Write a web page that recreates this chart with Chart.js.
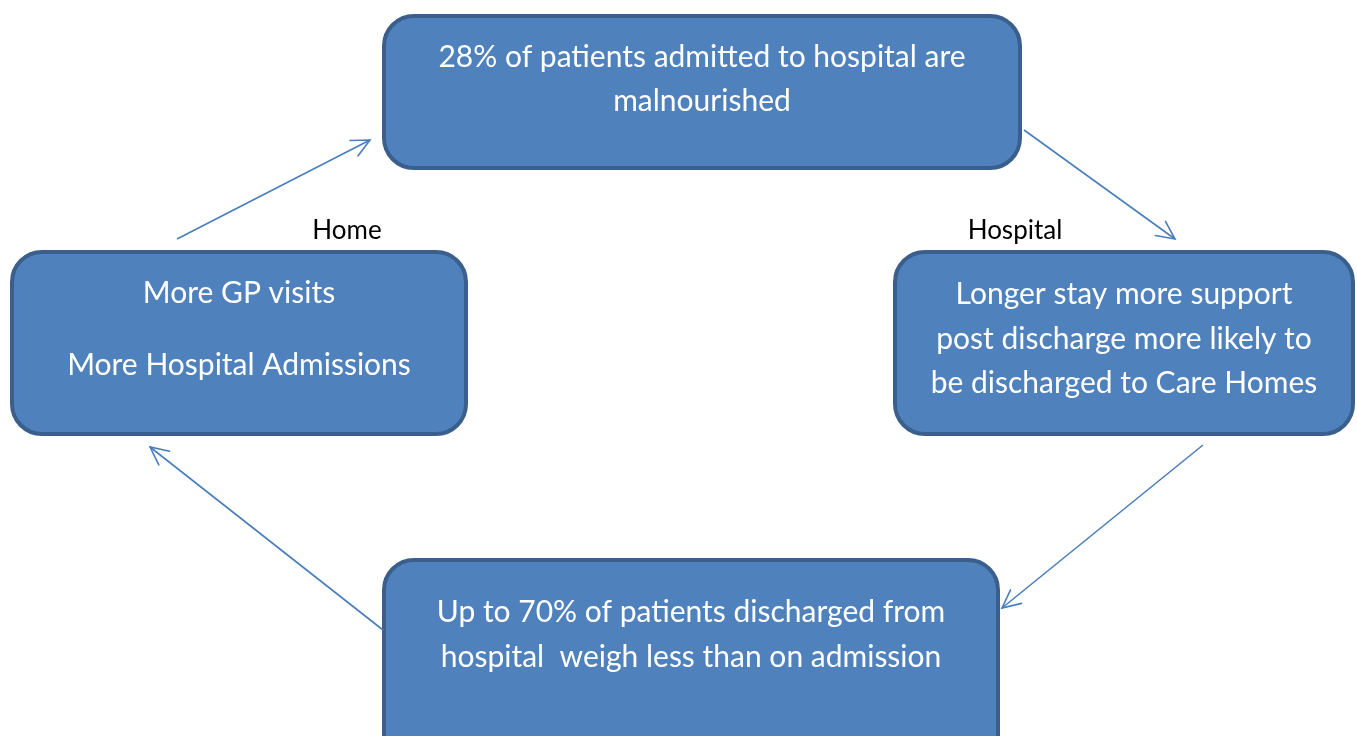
<!DOCTYPE html>
<html>
<head>
<meta charset="utf-8">
<script src="https://cdn.jsdelivr.net/npm/chart.js@4/dist/chart.umd.min.js"></script>
<style>
  html, body { margin: 0; padding: 0; background: #ffffff; }
  #wrap { width: 1357px; height: 736px; }
</style>
</head>
<body>
<div id="wrap"><canvas id="c" width="1357" height="736"></canvas></div>
<script>
// ---- Diagram content ----
const nodeNames = ["admitted", "stay", "discharged", "home"];
const nodeLines = [
  ["28% of patients admitted to hospital are", "malnourished"],
  ["Longer stay more support", "post discharge more likely to", "be discharged to Care Homes"],
  ["Up to 70% of patients discharged from", "hospital  weigh less than on admission"],
  ["More GP visits", "", "More Hospital Admissions"]
];
const sideLabels = ["Home", "Hospital"];

// node rectangles in diagram units: [x0, y0, x1, y1]
const nodeRects = [
  [384, 16, 1020, 168],
  [895, 252, 1353, 434],
  [384, 560, 998, 770],
  [12, 252, 466, 434]
];
// text line positions (diagram units)
const nodeTextX = [702, 1124, 691, 239];
const nodeTextY = [
  [57, 101],
  [294, 339, 383],
  [612, 657],
  [293, 329, 365]
];
const labelPos = [[347, 231], [1015, 231]];

// connector arrows from -> to (diagram units)
const arrowFrom = [[177, 239], [1024, 130], [1203, 445], [383, 630]];
const arrowTo   = [[370, 140], [1175, 239], [1002, 608], [150, 447]];

const boxFill = "#4F81BD";
const boxStroke = "#3A5F8C";
const arrowColor = "#4A7EBB";

const datasets = arrowFrom.map((f, i) => ({
  label: "arrow" + i,
  data: [{x: f[0], y: f[1]}, {x: arrowTo[i][0], y: arrowTo[i][1]}],
  showLine: true,
  borderColor: arrowColor,
  borderWidth: 1.6,
  pointRadius: 0,
  fill: false
}));

function roundRect(ctx, x0, y0, x1, y1, r) {
  ctx.beginPath();
  ctx.moveTo(x0 + r, y0);
  ctx.lineTo(x1 - r, y0);
  ctx.arcTo(x1, y0, x1, y0 + r, r);
  ctx.lineTo(x1, y1 - r);
  ctx.arcTo(x1, y1, x1 - r, y1, r);
  ctx.lineTo(x0 + r, y1);
  ctx.arcTo(x0, y1, x0, y1 - r, r);
  ctx.lineTo(x0, y0 + r);
  ctx.arcTo(x0, y0, x0 + r, y0, r);
  ctx.closePath();
}

const diagramPlugin = {
  id: "diagram",
  beforeDatasetsDraw(chart) {
    const ctx = chart.ctx, xs = chart.scales.x, ys = chart.scales.y;
    ctx.save();
    nodeRects.forEach(r => {
      const x0 = xs.getPixelForValue(r[0]), x1 = xs.getPixelForValue(r[2]);
      const y0 = ys.getPixelForValue(r[1]), y1 = ys.getPixelForValue(r[3]);
      roundRect(ctx, x0, y0, x1, y1, 30);
      ctx.fillStyle = boxFill;
      ctx.fill();
      ctx.lineWidth = 4;
      ctx.strokeStyle = boxStroke;
      ctx.stroke();
    });
    ctx.fillStyle = "#ffffff";
    ctx.textAlign = "center";
    ctx.textBaseline = "middle";
    nodeLines.forEach((lines, i) => {
      ctx.font = "30px Lato, 'Open Sans', sans-serif";
      lines.forEach((t, j) => {
        if (!t) return;
        const x = xs.getPixelForValue(nodeTextX[i]);
        const y = ys.getPixelForValue(nodeTextY[i][j]);
        ctx.fillText(t, x, y);
      });
    });
    ctx.fillStyle = "#000000";
    ctx.font = "26px Lato, 'Open Sans', sans-serif";
    sideLabels.forEach((t, i) => {
      ctx.fillText(t, xs.getPixelForValue(labelPos[i][0]), ys.getPixelForValue(labelPos[i][1]));
    });
    ctx.restore();
  },
  afterDatasetsDraw(chart) {
    const ctx = chart.ctx, xs = chart.scales.x, ys = chart.scales.y;
    ctx.save();
    ctx.strokeStyle = arrowColor;
    ctx.lineWidth = 1.6;
    ctx.lineCap = "round";
    arrowTo.forEach((t, i) => {
      const f = arrowFrom[i];
      const tx = xs.getPixelForValue(t[0]), ty = ys.getPixelForValue(t[1]);
      const fx = xs.getPixelForValue(f[0]), fy = ys.getPixelForValue(f[1]);
      const ang = Math.atan2(ty - fy, tx - fx);
      const len = 20, spread = Math.PI / 7;
      ctx.beginPath();
      ctx.moveTo(tx - len * Math.cos(ang - spread), ty - len * Math.sin(ang - spread));
      ctx.lineTo(tx, ty);
      ctx.lineTo(tx - len * Math.cos(ang + spread), ty - len * Math.sin(ang + spread));
      ctx.stroke();
    });
    ctx.restore();
  }
};

new Chart(document.getElementById("c"), {
  type: "scatter",
  data: { datasets },
  options: {
    responsive: false,
    animation: false,
    devicePixelRatio: 1,
    layout: { padding: 0 },
    plugins: { legend: { display: false }, tooltip: { enabled: false } },
    scales: {
      x: { type: "linear", min: 0, max: 1357, display: false },
      y: { type: "linear", min: 0, max: 736, reverse: true, display: false }
    }
  },
  plugins: [diagramPlugin]
});
</script>
</body>
</html>
